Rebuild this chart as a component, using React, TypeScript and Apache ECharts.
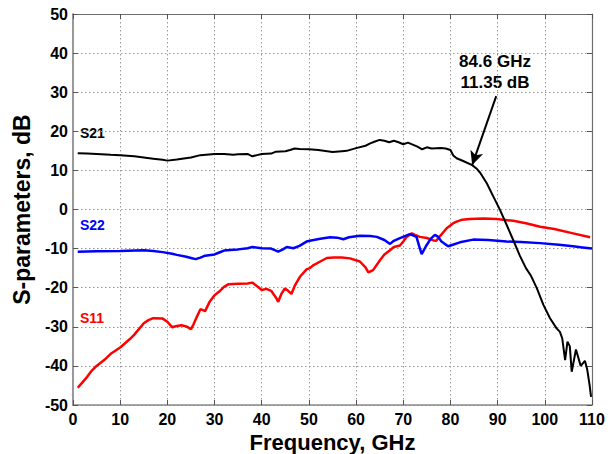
import React, { useEffect, useRef } from "react";
import * as echarts from "echarts";

const xTicks = { min: 0, max: 110, interval: 10 };
const yTicks = { min: -50, max: 50, interval: 10 };

const s21Freq = [1, 3, 5, 8, 10, 13, 15, 17, 19, 20, 22, 25, 27, 30, 32, 34, 35, 37, 38, 39, 40, 42, 43, 45, 46, 47, 48, 50, 52, 55, 57, 58, 60, 62, 63, 64, 65, 66, 67, 68, 69, 70, 71, 72, 73, 74, 75, 76, 78, 79, 80, 80.6, 81.3, 82.7, 84.6, 85.5, 86.3, 87.7, 89.1, 90.5, 91.9, 93.3, 94.7, 96, 97, 98.3, 99.7, 101.1, 102.5, 103.2, 103.7, 104.3, 104.8, 105.3, 105.7, 106.6, 107.6, 108.5, 109, 109.5, 109.8];
const s21Vals = [14.4, 14.3, 14.2, 14.0, 13.9, 13.6, 13.3, 13.0, 12.7, 12.5, 12.8, 13.3, 13.9, 14.2, 14.2, 14.0, 14.1, 14.2, 13.6, 13.9, 14.2, 14.3, 14.8, 14.9, 15.2, 15.6, 15.5, 15.4, 15.2, 14.7, 14.9, 15.0, 15.7, 16.3, 16.9, 17.4, 17.8, 17.6, 17.2, 17.6, 17.2, 16.7, 17.1, 16.6, 16.1, 15.4, 15.9, 15.6, 15.7, 15.6, 15.2, 13.8, 13.1, 12.4, 11.35, 10.5, 9.4, 6.7, 3.3, -0.1, -3.9, -7.8, -11.8, -15, -16.8, -20.1, -24.4, -27.8, -30.4, -31.3, -33, -38.5, -33.8, -35, -41.5, -35.8, -40, -38.7, -41, -45, -47.9];

const s22Freq = [1, 5, 10, 15, 17, 19, 21, 22, 24, 25, 26, 27, 28, 30, 31, 32, 34, 35, 37, 38, 40, 42, 43.5, 44.5, 45.3, 46.7, 48, 49.5, 50.2, 52.4, 54.5, 56, 57.3, 58.5, 60.8, 63, 64.4, 66, 67.2, 68, 69.3, 71.4, 72.8, 73.4, 73.9, 74.8, 75.8, 76.7, 77.4, 78.1, 79.5, 80.5, 82, 84.8, 88, 91.9, 95, 99, 103, 106, 108, 110];
const s22Vals = [-10.8, -10.7, -10.6, -10.4, -10.6, -10.9, -11.3, -11.6, -12.1, -12.4, -12.7, -12.3, -11.8, -11.5, -11, -10.5, -10.3, -10.2, -9.9, -9.6, -9.9, -10.0, -10.8, -10.2, -9.6, -9.9, -9.3, -8.2, -8.0, -7.5, -7.1, -7.2, -7.6, -7.1, -6.7, -6.8, -7.0, -7.8, -8.8, -8.0, -7.3, -6.3, -7.0, -9.5, -11.4, -9.4, -7.5, -6.5, -7.0, -8.2, -9.4, -9.0, -8.4, -7.7, -7.8, -8.2, -8.3, -8.6, -9.0, -9.4, -9.7, -10];

const s11Freq = [1, 2, 3, 4, 5, 7, 8, 10, 12, 13, 15, 16, 17, 19, 20, 21, 22, 23, 24, 25, 25.5, 26, 27, 28, 29, 30, 31, 32, 33, 35, 37, 38, 39, 40, 41, 42, 43, 43.5, 44.2, 44.9, 45.6, 46.3, 47, 48.1, 49.5, 50.2, 51, 52.4, 53.8, 55.2, 57, 58.7, 60.8, 62, 62.6, 63.6, 65.1, 66, 67.2, 68, 69.3, 70, 70.7, 71.8, 72.5, 73.5, 75, 76.4, 77, 77.8, 79.2, 80.6, 81.3, 82.5, 84.1, 87, 89.8, 93.3, 96, 99, 102, 106, 109.6];
const s11Vals = [-45.6, -44.2, -42.8, -41.2, -40, -38.1, -36.9, -35.3, -33.2, -32, -29.1, -28.3, -27.8, -27.9, -28.7, -30.1, -29.8, -29.6, -29.9, -30.6, -29.5, -28.1, -25.5, -26, -23.5, -21.9, -21, -19.8, -19.1, -19, -18.9, -18.7, -19.6, -20.6, -20.3, -20.8, -22.5, -23.6, -21.5, -20.2, -20.8, -21.6, -19.5, -17.2, -15.3, -15, -14.2, -13.3, -12.4, -12.3, -12.3, -12.5, -13.3, -14.8, -16.1, -15.5, -12.9, -11.5, -10.4, -9.6, -9.2, -8.2, -7.0, -6.1, -6.5, -7.0, -7.3, -7.9, -8.0, -6.8, -4.8, -3.5, -3.1, -2.6, -2.4, -2.3, -2.4, -2.9, -3.5, -4.4, -5.0, -6.1, -7.1];

const markerFreq = 84.6;
const markerVal = 11.35;
const markerTextFrom = [89.7, 29];
const markerLines = ["84.6 GHz", "11.35 dB"];

const FONT = "'Liberation Sans', Arial, sans-serif";

function pairs(xs: number[], ys: number[]) {
  return xs.map((x, i) => [x, ys[i]]);
}

export default function App() {
  const ref = useRef<HTMLDivElement>(null);
  useEffect(() => {
    if (!ref.current) return;
    const chart = echarts.init(ref.current, undefined, { renderer: "svg" });
    const boxLine = { show: true, onZero: false, lineStyle: { color: "#6e6e6e", width: 1.2 } };
    chart.setOption({
      animation: false,
      backgroundColor: "#ffffff",
      grid: { left: 73, right: 23, top: 14, bottom: 49, outerBoundsMode: "none", containLabel: false },
      xAxis: [
        {
          type: "value",
          min: xTicks.min,
          max: xTicks.max,
          interval: xTicks.interval,
          name: "Frequency, GHz",
          nameLocation: "middle",
          nameGap: 17,
          nameTextStyle: { fontFamily: FONT, fontWeight: "bold", fontSize: 22, lineHeight: 22, color: "#000" },
          axisLine: { show: true, onZero: false, lineStyle: { color: "#888", width: 1.5 } },
          axisTick: { show: true, inside: true, length: 5, lineStyle: { color: "#555" } },
          axisLabel: { fontFamily: FONT, fontWeight: "bold", fontSize: 16, color: "#000", margin: 6 },
          splitLine: { show: true, lineStyle: { color: "#999", type: [1.5, 2.5], width: 1 } },
        },
        {
          type: "value",
          position: "top",
          min: xTicks.min,
          max: xTicks.max,
          interval: xTicks.interval,
          axisLine: boxLine,
          axisTick: { show: true, inside: true, length: 5, lineStyle: { color: "#555" } },
          axisLabel: { show: false },
          splitLine: { show: false },
        },
      ],
      yAxis: [
        {
          type: "value",
          min: yTicks.min,
          max: yTicks.max,
          interval: yTicks.interval,
          name: "S-parameters, dB",
          nameLocation: "middle",
          nameGap: 36,
          nameTextStyle: { fontFamily: FONT, fontWeight: "bold", fontSize: 23, color: "#000" },
          axisLine: { show: true, onZero: false, lineStyle: { color: "#999", width: 2 } },
          axisTick: { show: true, inside: true, length: 5, lineStyle: { color: "#555" } },
          axisLabel: { fontFamily: FONT, fontWeight: "bold", fontSize: 16, color: "#000", margin: 5 },
          splitLine: { show: true, lineStyle: { color: "#999", type: [1.5, 2.5], width: 1 } },
        },
        {
          type: "value",
          position: "right",
          min: yTicks.min,
          max: yTicks.max,
          interval: yTicks.interval,
          axisLine: boxLine,
          axisTick: { show: true, inside: true, length: 5, lineStyle: { color: "#555" } },
          axisLabel: { show: false },
          splitLine: { show: false },
        },
      ],
      series: [
        {
          name: "S11",
          type: "line",
          showSymbol: false,
          data: pairs(s11Freq, s11Vals),
          lineStyle: { color: "#ff0000", width: 2.5 },
          itemStyle: { color: "#ff0000" },
        },
        {
          name: "S22",
          type: "line",
          showSymbol: false,
          data: pairs(s22Freq, s22Vals),
          lineStyle: { color: "#0000ff", width: 2.5 },
          itemStyle: { color: "#0000ff" },
        },
        {
          name: "S21",
          type: "line",
          showSymbol: false,
          data: pairs(s21Freq, s21Vals),
          lineStyle: { color: "#000000", width: 2 },
          itemStyle: { color: "#000000" },
          markLine: {
            silent: true,
            symbol: ["none", "arrow"],
            symbolSize: [10, 14],
            label: { show: false },
            lineStyle: { color: "#000", width: 2, type: "solid" },
            data: [[{ coord: markerTextFrom }, { coord: [markerFreq, markerVal] }]],
          },
        },
      ],
      graphic: [
        { type: "text", left: 80, top: 126, style: { text: "S21", fill: "#000", font: `bold 14px ${FONT}` } },
        { type: "text", left: 80, top: 218, style: { text: "S22", fill: "#0000ff", font: `bold 14px ${FONT}` } },
        { type: "text", left: 80, top: 311, style: { text: "S11", fill: "#ff0000", font: `bold 14px ${FONT}` } },
        {
          type: "text",
          x: 495,
          y: 53,
          style: { text: markerLines[0], fill: "#000", font: `bold 17px ${FONT}`, align: "center" },
        },
        {
          type: "text",
          x: 495,
          y: 74,
          style: { text: markerLines[1], fill: "#000", font: `bold 17px ${FONT}`, align: "center" },
        },
      ],
    });
    return () => chart.dispose();
  }, []);
  return <div ref={ref} style={{ width: 615, height: 454, position: "fixed", left: 0, top: 0 }} />;
}
